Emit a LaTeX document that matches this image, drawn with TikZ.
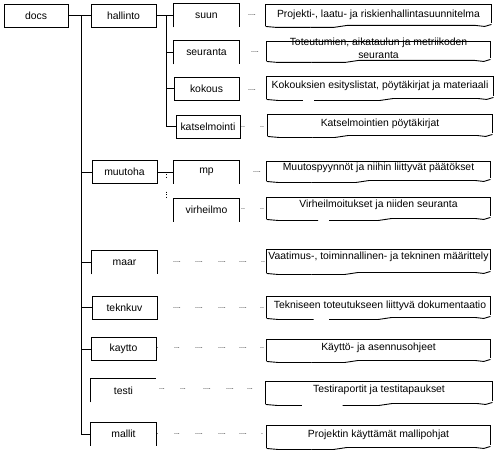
\documentclass[tikz,border=0pt]{standalone}
\usepackage{fontspec}
\setmainfont{Liberation Sans}
\usetikzlibrary{calc}
\newcommand\fnt{\fontsize{10.4}{13}\selectfont}
\newcommand\dfnt{\fontsize{7}{8}\selectfont}
% torn description frame: #1 name, #2 step fraction, #3 gap start, #4 gap end
\newcommand\descframe[4]{%
  \draw ($(#1.south west)+(0,1)$) -- (#1.north west) -- (#1.north east) -- ($(#1.south east)+(0,-2)$);
  \draw ($(#1.south west)+(0,1)$) -- ($(#1.south west)!0.05!(#1.south east)+(0,2)$)
        -- ($(#1.south west)!#3!(#1.south east)+(0,2)$);
  \draw ($(#1.south west)!#4!(#1.south east)+(0,2)$) -- ($(#1.south west)!#2!(#1.south east)+(0,2)$)
        -- ($(#1.south west)!#2+0.06!(#1.south east)$) -- ($(#1.south west)!0.93!(#1.south east)$)
        -- ($(#1.south west)!0.97!(#1.south east)+(0,1)$) -- ($(#1.south east)+(0,-1)$);}
\newcommand\openframe[1]{\draw (#1.south west) -- (#1.north west) -- (#1.north east) -- (#1.south east);}
\begin{document}
\begin{tikzpicture}[x=1pt,y=-1pt,line width=0.9pt,
  folder/.style={minimum width=65pt,minimum height=23pt,inner sep=0pt,font=\fnt},
  fullbox/.style={folder,draw},
  descbox/.style={inner sep=0pt},
  desctext/.style={font=\fnt,inner sep=0pt,align=center},
  dots/.style={font=\dfnt,inner sep=0pt}]
\useasboundingbox[fill=white] (0,0) rectangle (498,452);

% folders
\node[fullbox,minimum width=64pt] (docs) at (36,15.5) {docs};
\node[fullbox] (hallinto) at (123.5,15.5) {hallinto};
\node[folder] (suun) at (206.5,15.5) {suun};
\node[folder] (seuranta) at (206.5,52.5) {seuranta};
\node[fullbox] (kokous) at (206.5,88.5) {kokous};
\node[fullbox,minimum width=64pt] (katselmointi) at (208,126.5) {katselmointi};
\node[fullbox] (muutoha) at (124.5,172) {muutoha};
\node[folder] (mp) at (206.5,172) {mp};
\node[folder] (virheilmo) at (206.5,210) {virheilmo};
\node[folder] (maar) at (124.5,262.5) {maar};
\node[fullbox] (teknkuv) at (124.5,307.5) {teknkuv};
\node[fullbox] (kaytto) at (123.5,349) {kaytto};
\node[folder] (testi) at (123.5,390.5) {testi};
\node[folder] (mallit) at (123.5,434) {mallit};
\openframe{suun}
\openframe{seuranta}
\openframe{mp}
\openframe{virheilmo}
\openframe{maar}
\openframe{mallit}
\draw (testi.south west) -- (testi.north west) -- (testi.north east);

% connectors
\coordinate (tr) at (81,15.5);
\coordinate (st) at (166,15.5);
\draw (docs.east) -- (hallinto.west);
\draw (tr) -- (tr |- mallit.west) -- (mallit.west);
\foreach \n in {muutoha,maar,teknkuv,kaytto} \draw (tr |- \n.west) -- (\n.west);
\draw (hallinto.east) -- (suun.west);
\draw (st) -- (st |- katselmointi.west) -- (katselmointi.west);
\foreach \n in {seuranta,kokous} \draw (st |- \n.west) -- (\n.west);
\draw (muutoha.east) -- (mp.west);
\coordinate (m1) at (166,174);
\coordinate (m2) at (166,177.5);
\coordinate (m3) at (166,191.5);
\coordinate (m4) at (166,198.5);
\draw[dash pattern=on 0.9pt off 1.6pt] (m1) -- (m2);
\draw[dash pattern=on 0.9pt off 1.6pt] (m3) -- (m4);

% description boxes
\node[descbox,minimum width=225pt,minimum height=20pt] (b1) at (378.5,15) {};
\node[descbox,minimum width=223pt,minimum height=18pt] (b2) at (378.5,51) {};
\node[descbox,minimum width=226pt,minimum height=21pt] (b3) at (380,87.5) {};
\node[descbox,minimum width=224pt,minimum height=20pt] (b4) at (380,125) {};
\node[descbox,minimum width=223pt,minimum height=18pt] (b5) at (378.5,171) {};
\node[descbox,minimum width=223pt,minimum height=20pt] (b6) at (378.5,208) {};
\node[descbox,minimum width=223pt,minimum height=22pt] (b7) at (378.5,261) {};
\node[descbox,minimum width=223pt,minimum height=20pt] (b8) at (378.5,307) {};
\node[descbox,minimum width=223pt,minimum height=20pt] (b9) at (378.5,350) {};
\node[descbox,minimum width=226pt,minimum height=21pt] (b10) at (379,392.5) {};
\node[descbox,minimum width=223pt,minimum height=21pt] (b11) at (378.5,436.5) {};
\descframe{b1}{0.3}{0.2}{0.2}
\descframe{b2}{0.35}{0.2}{0.2}
\descframe{b3}{0.5}{0.16}{0.21}
\descframe{b4}{0.3}{0.2}{0.2}
\descframe{b5}{0.4}{0.2}{0.2}
\descframe{b6}{0.5}{0.23}{0.28}
\descframe{b7}{0.35}{0.2}{0.2}
\descframe{b8}{0.5}{0.21}{0.28}
\descframe{b9}{0.35}{0.2}{0.2}
\descframe{b10}{0.5}{0.16}{0.34}
\descframe{b11}{0.3}{0.2}{0.2}

\node[desctext] (t1) at (378.5,15) {Projekti-, laatu- ja riskienhallintasuunnitelma};
\node[desctext] (t2) at (378.5,48.5) {Toteutumien, aikataulun ja metriikoden\\seuranta};
\node[desctext] (t3) at (380,86) {Kokouksien esityslistat, pöytäkirjat ja materiaali};
\node[desctext] (t4) at (380,124) {Katselmointien pöytäkirjat};
\node[desctext] (t5) at (378.5,168) {Muutospyynnöt ja niihin liittyvät päätökset};
\node[desctext] (t6) at (378.5,205) {Virheilmoitukset ja niiden seuranta};
\node[desctext] (t7) at (378.5,257) {Vaatimus-, toiminnallinen- ja tekninen määrittely};
\node[desctext] (t8) at (380,306) {Tekniseen toteutukseen liittyvä dokumentaatio};
\node[desctext] (t9) at (378.5,348) {Käyttö- ja asennusohjeet};
\node[desctext] (t10) at (379,390) {Testiraportit ja testitapaukset};
\node[desctext] (t11) at (378.5,435) {Projektin käyttämät mallipohjat};

% dotted leaders
\node[dots] (d1) at (252,15) {....};
\node[dots] (d2) at (255,52) {....};
\node[dots] (d3) at (252,90) {....};
\node[dots] (d4a) at (243,127) {..};
\node[dots] (d4b) at (262,127) {..};
\node[dots] (d5) at (257,172) {....};
\node[dots] (d6a) at (243,209) {..};
\node[dots] (d6b) at (262,209) {..};
\node[dots] (d7a) at (177,262) {....};
\node[dots] (d7b) at (199,262) {....};
\node[dots] (d7c) at (222,262) {....};
\node[dots] (d7d) at (243,262) {....};
\node[dots] (d7e) at (263,262) {..};
\node[dots] (d8a) at (177,308) {....};
\node[dots] (d8b) at (199,308) {....};
\node[dots] (d8c) at (222,308) {....};
\node[dots] (d8d) at (243,308) {....};
\node[dots] (d8e) at (262,308) {..};
\node[dots] (d9a) at (157.5,348) {.};
\node[dots] (d9b) at (177,348) {...};
\node[dots] (d9c) at (199,348) {....};
\node[dots] (d9d) at (222,348) {....};
\node[dots] (d9e) at (243,348) {....};
\node[dots] (d9f) at (262,348) {..};
\node[dots] (d10a) at (162,389) {...};
\node[dots] (d10b) at (183,389) {...};
\node[dots] (d10c) at (207,389) {....};
\node[dots] (d10d) at (230,389) {....};
\node[dots] (d10e) at (250,389) {...};
\node[dots] (d11a) at (157.5,434) {.};
\node[dots] (d11b) at (177,434) {...};
\node[dots] (d11c) at (199,434) {....};
\node[dots] (d11d) at (222,434) {....};
\node[dots] (d11e) at (243,434) {....};
\node[dots] (d11f) at (262,434) {.};
\end{tikzpicture}
\end{document}
